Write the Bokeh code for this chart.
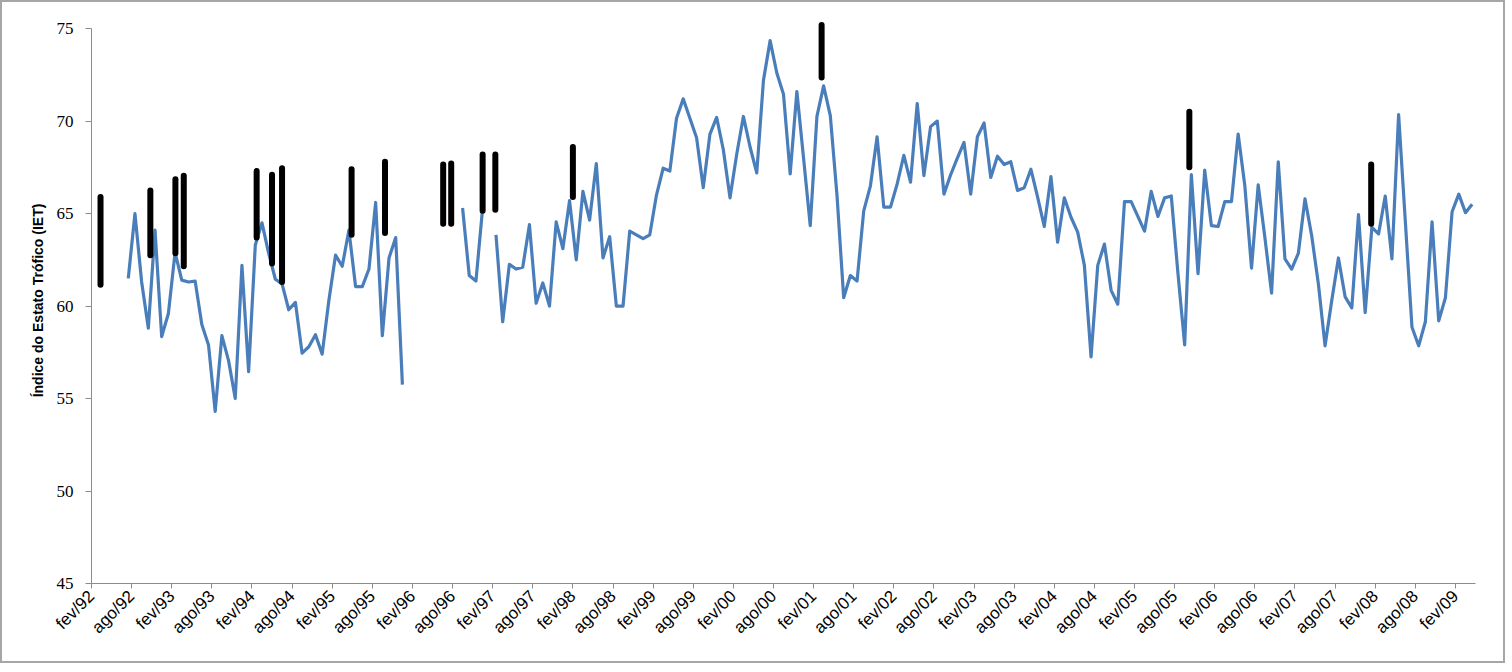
import math
from bokeh.plotting import figure
from bokeh.models import Range1d, FixedTicker, ColumnDataSource
from bokeh.embed import file_html
from bokeh.resources import INLINE

NaN = float("nan")

# x-axis tick labels, one every 6 months starting at fev/92
tick_labels = ["fev/92", "ago/92", "fev/93", "ago/93", "fev/94", "ago/94",
               "fev/95", "ago/95", "fev/96", "ago/96", "fev/97", "ago/97",
               "fev/98", "ago/98", "fev/99", "ago/99", "fev/00", "ago/00",
               "fev/01", "ago/01", "fev/02", "ago/02", "fev/03", "ago/03",
               "fev/04", "ago/04", "fev/05", "ago/05", "fev/06", "ago/06",
               "fev/07", "ago/07", "fev/08", "ago/08", "fev/09"]
months_per_tick = 6
n_categories = 207

# monthly IET series; first value is month index 5 (jul/92)
first_month = 5
iet = [
    61.5, 65.0, 61.3, 58.8, 64.1, 58.35, 59.6, 62.9, 61.4, 61.3,          # 5-14
    61.35, 59.0, 57.9, 54.3, 58.4, 57.05, 55.0, 62.2, 56.45, 63.3,        # 15-24
    64.5, 62.85, 61.45, 61.2, 59.8, 60.2, 57.45, 57.8, 58.45, 57.4,       # 25-34
    60.3, 62.75, 62.15, 64.1, 61.05, 61.05, 62.0, 65.6, 58.4, 62.6,       # 35-44
    63.7, 55.75, NaN, NaN, NaN, NaN, NaN, NaN, NaN, NaN,                  # 45-54
    65.3, 61.65, 61.35, 65.3, NaN, 63.85, 59.15, 62.25, 62.0, 62.1,       # 55-64
    64.4, 60.15, 61.25, 60.0, 64.55, 63.1, 65.7, 62.5, 66.2, 64.65,       # 65-74
    67.7, 62.6, 63.75, 60.0, 60.0, 64.05, 63.85, 63.65, 63.85, 66.0,      # 75-84
    67.45, 67.3, 70.15, 71.2, 70.15, 69.1, 66.4, 69.3, 70.2, 68.45,       # 85-94
    65.85, 68.2, 70.25, 68.6, 67.2, 72.2, 74.35, 72.6, 71.45, 67.15,      # 95-104
    71.6, 68.0, 64.35, 70.25, 71.9, 70.3, 66.0, 60.45, 61.65, 61.35,      # 105-114
    65.15, 66.5, 69.15, 65.35, 65.35, 66.6, 68.15, 66.7, 70.95, 67.05,    # 115-124
    69.7, 70.0, 66.05, 67.1, 68.0, 68.85, 66.05, 69.15, 69.9, 66.95,      # 125-134
    68.1, 67.65, 67.8, 66.25, 66.4, 67.4, 65.9, 64.3, 67.0, 63.45,        # 135-144
    65.85, 64.8, 64.0, 62.2, 57.25, 62.2, 63.35, 60.85, 60.1, 65.65,      # 145-154
    65.65, 64.85, 64.05, 66.2, 64.85, 65.85, 65.95, 61.75, 57.9, 67.1,    # 155-164
    61.75, 67.35, 64.35, 64.3, 65.65, 65.65, 69.3, 66.5, 62.05, 66.55,    # 165-174
    63.7, 60.7, 67.8, 62.55, 62.0, 62.85, 65.8, 63.8, 61.2, 57.85,        # 175-184
    60.3, 62.6, 60.5, 59.9, 64.95, 59.65, 64.25, 63.9, 65.95, 62.55,      # 185-194
    70.35, 64.6, 58.85, 57.85, 59.15, 64.55, 59.2, 60.45, 65.1, 66.05,    # 195-204
    65.05, 65.5,                                                          # 205-206
]

# black vertical marks (month index, low, high)
bar_month = [0.85, 8.3, 12.05, 13.3, 24.2, 26.5, 28.0, 38.4, 43.4,
             52.1, 53.3, 58.0, 59.9, 71.5, 108.7, 163.7, 190.9]
bar_low = [61.15, 62.75, 62.85, 62.15, 63.7, 62.3, 61.3, 63.85, 63.95,
           64.45, 64.45, 65.15, 65.2, 65.9, 72.35, 67.5, 64.45]
bar_high = [65.9, 66.25, 66.85, 67.05, 67.3, 67.1, 67.45, 67.4, 67.8,
            67.65, 67.7, 68.2, 68.2, 68.6, 75.2, 70.5, 67.65]

x_vals = [first_month + i + 0.5 for i in range(len(iet))]
src = ColumnDataSource(dict(x=x_vals, y=iet))
bars = ColumnDataSource(dict(x=[b + 0.5 for b in bar_month], y0=bar_low, y1=bar_high))

p = figure(width=1505, height=663, output_backend="svg", toolbar_location=None,
           x_range=Range1d(0, n_categories), y_range=Range1d(45, 75.6),
           min_border_left=89, min_border_right=32, min_border_top=15,
           min_border_bottom=82, background_fill_color="white",
           border_fill_color="white", outline_line_color=None)
p.styles = {"border": "2px solid #a6a6a6"}

p.grid.visible = False

p.line("x", "y", source=src, line_color="#4A7EBB", line_width=3.2, line_join="round")
p.segment(x0="x", y0="y0", x1="x", y1="y1", source=bars, line_color="black",
          line_width=6, line_cap="round")

# y axis
ya = p.yaxis[0]
ya.ticker = FixedTicker(ticks=[45, 50, 55, 60, 65, 70, 75])
ya.bounds = (45, 75)
ya.axis_line_color = "#8c8c8c"
ya.major_tick_line_color = "#8c8c8c"
ya.major_tick_out = 6
ya.major_tick_in = 0
ya.minor_tick_line_color = None
ya.major_label_text_font = "Liberation Serif"
ya.major_label_text_font_size = "17px"
ya.major_label_text_color = "black"
ya.major_label_standoff = 12
ya.axis_label = "Índice do Estato Trófico (IET)"
ya.axis_label_text_font = "Liberation Sans"
ya.axis_label_text_font_style = "bold"
ya.axis_label_text_font_size = "14px"
ya.axis_label_text_color = "black"
ya.axis_label_standoff = 8

# x axis
xa = p.xaxis[0]
tick_pos = [i * months_per_tick for i in range(len(tick_labels))]
xa.ticker = FixedTicker(ticks=tick_pos)
xa.major_label_overrides = {t: lab for t, lab in zip(tick_pos, tick_labels)}
xa.major_label_orientation = math.pi / 4
xa.axis_line_color = "#8c8c8c"
xa.major_tick_line_color = "#8c8c8c"
xa.major_tick_out = 5
xa.major_tick_in = 0
xa.minor_tick_line_color = None
xa.major_label_text_font = "Liberation Sans Narrow, Liberation Sans"
xa.major_label_text_font_size = "17px"
xa.major_label_text_color = "black"
xa.major_label_standoff = 5

open("out.html", "w").write(file_html(p, INLINE))
